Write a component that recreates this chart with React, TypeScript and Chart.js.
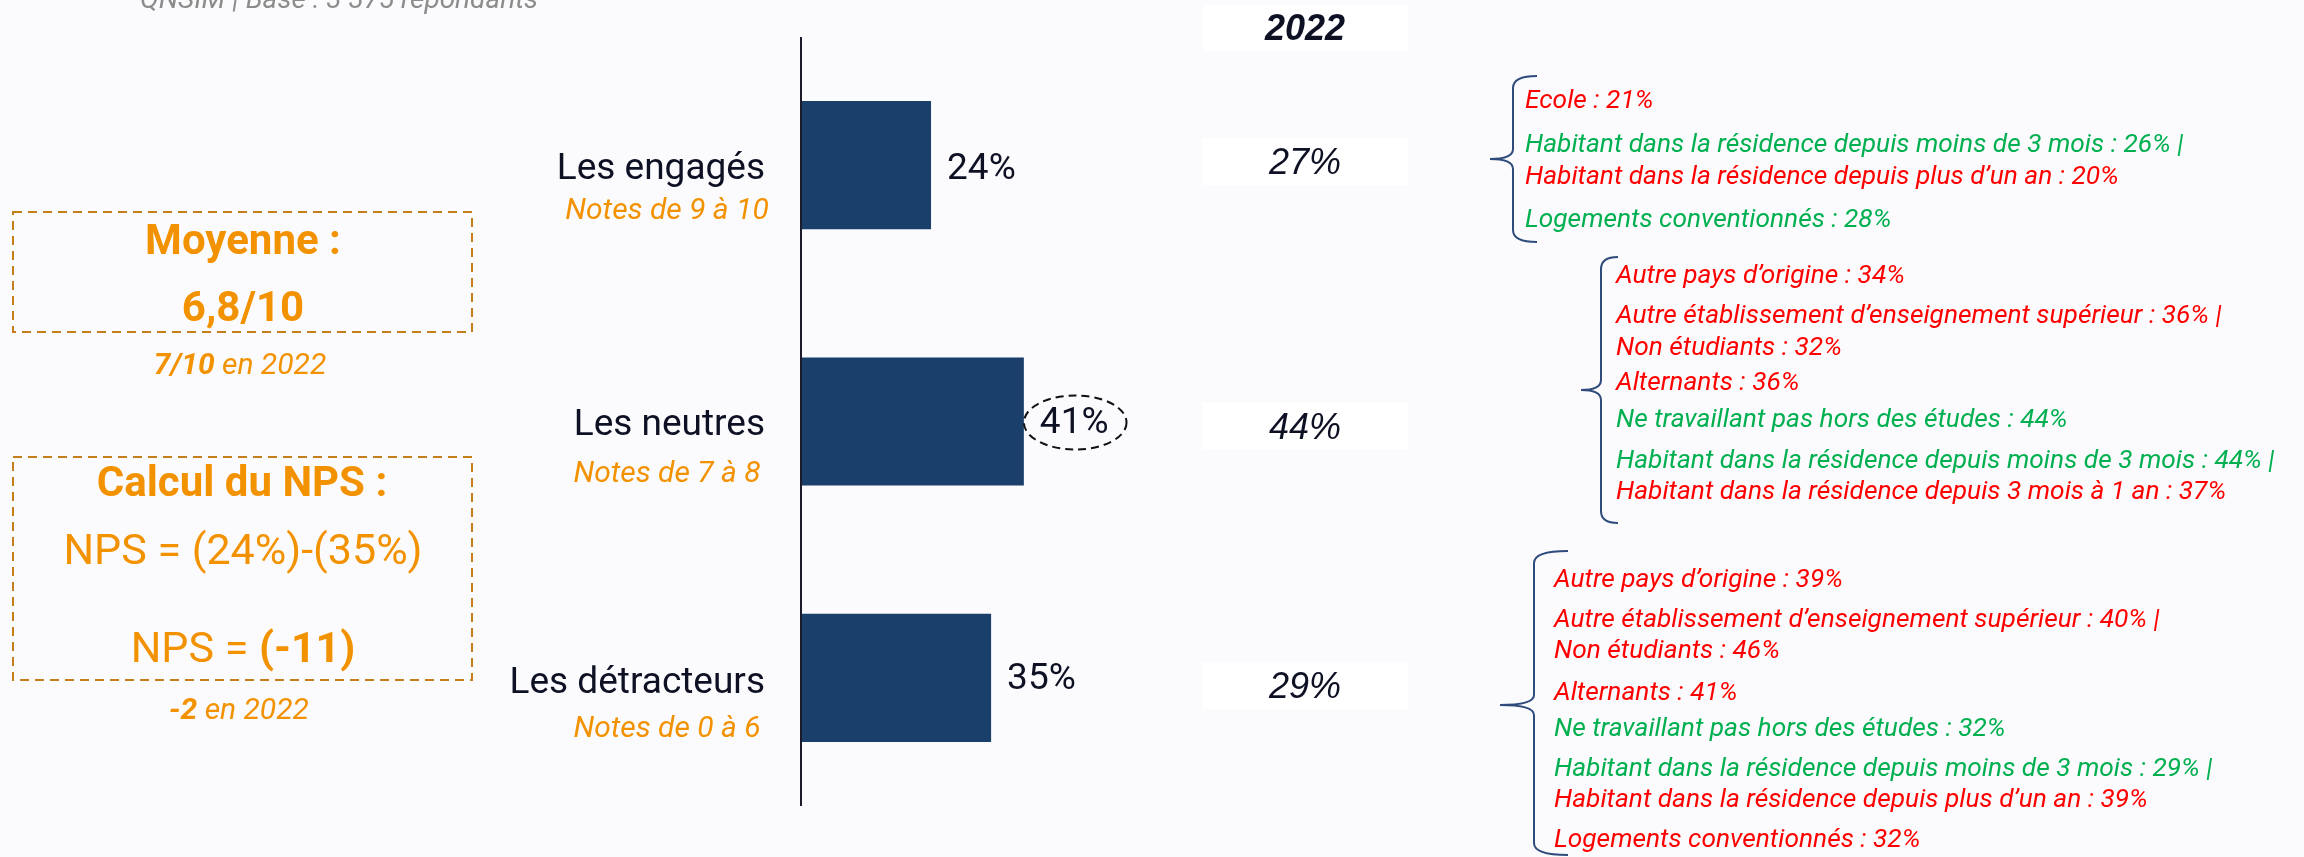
import React, { useEffect, useRef } from "react";
import { Chart, registerables } from "chart.js";

Chart.register(...registerables);

// ---------- DATA ----------
const categories = ["Les engagés", "Les neutres", "Les détracteurs"];
const scoreRanges = ["Notes de 9 à 10", "Notes de 7 à 8", "Notes de 0 à 6"];
const values2023 = [24, 41, 35];
const values2022 = [27, 44, 29];
const previousYear = "2022";
const highlightIndex = 1;

const meanTitle = "Moyenne :";
const meanScore = "6,8/10";
const meanPrevious = "7/10";
const npsTitle = "Calcul du NPS :";
const npsPromoters = 24;
const npsDetractors = 35;
const npsValue = -11;
const npsPrevious = -2;
const sourceNote = "QNSIM | Base : 3 375 répondants";

// [text, direction] : "up" = significantly higher, "down" = significantly lower
const engagesNotes: [string, string][] = [
  ["Ecole : 21%", "down"],
  ["Habitant dans la résidence depuis moins de 3 mois : 26% |", "up"],
  ["Habitant dans la résidence depuis plus d’un an : 20%", "down"],
  ["Logements conventionnés : 28%", "up"],
];
const neutresNotes: [string, string][] = [
  ["Autre pays d’origine : 34%", "down"],
  ["Autre établissement d’enseignement supérieur : 36% |", "down"],
  ["Non étudiants : 32%", "down"],
  ["Alternants : 36%", "down"],
  ["Ne travaillant pas hors des études : 44%", "up"],
  ["Habitant dans la résidence depuis moins de 3 mois : 44% |", "up"],
  ["Habitant dans la résidence depuis 3 mois à 1 an : 37%", "down"],
];
const detracteursNotes: [string, string][] = [
  ["Autre pays d’origine : 39%", "down"],
  ["Autre établissement d’enseignement supérieur : 40% |", "down"],
  ["Non étudiants : 46%", "down"],
  ["Alternants : 41%", "down"],
  ["Ne travaillant pas hors des études : 32%", "up"],
  ["Habitant dans la résidence depuis moins de 3 mois : 29% |", "up"],
  ["Habitant dans la résidence depuis plus d’un an : 39%", "down"],
  ["Logements conventionnés : 32%", "down"],
];

// ---------- LAYOUT / STYLE ----------
const W = 2304;
const H = 857;
const BG = "#FBFBFD";
const NAVY = "#1A3F6B";
const INK = "#0E1024";
const ORANGE = "#F39200";
const DASH_ORANGE = "#C47E1A";
const RED = "#FF0000";
const GREEN = "#00B050";
const BRACE = "#2F4B7C";

const labelOffsets = [5, 4, 6];
const subLabelOffsets = [46, 53, 52];
const valueOffsets = [5, 2, 2];
const prevBoxOffsets = [-4, 4, 7];

const noteGroups = [
  { notes: engagesNotes, x: 1525, baselines: [108, 152, 184, 227], brace: { x: 1513, top: 76, bottom: 242, mid: 159, tip: 1490, end: 1537 } },
  { notes: neutresNotes, x: 1616, baselines: [283, 323, 355, 390, 427, 468, 499], brace: { x: 1601, top: 257, bottom: 523, mid: 390, tip: 1581, end: 1618 } },
  { notes: detracteursNotes, x: 1554, baselines: [587, 627, 658, 700, 736, 776, 807, 847], brace: { x: 1534, top: 551, bottom: 855, mid: 705, tip: 1500, end: 1568 } },
];

type Run = { text: string; font: string };

function drawRuns(ctx: CanvasRenderingContext2D, runs: Run[], cx: number, y: number, color: string) {
  let total = 0;
  const widths = runs.map((r) => {
    ctx.font = r.font;
    const w = ctx.measureText(r.text).width;
    total += w;
    return w;
  });
  let x = cx - total / 2;
  ctx.fillStyle = color;
  ctx.textAlign = "left";
  ctx.textBaseline = "middle";
  runs.forEach((r, i) => {
    ctx.font = r.font;
    ctx.fillText(r.text, x, y);
    x += widths[i];
  });
}

function drawBrace(ctx: CanvasRenderingContext2D, b: { x: number; top: number; bottom: number; mid: number; tip: number; end: number }) {
  const r = 12;
  const r2 = 10;
  ctx.save();
  ctx.strokeStyle = BRACE;
  ctx.lineWidth = 2;
  ctx.beginPath();
  ctx.moveTo(b.end, b.top);
  ctx.quadraticCurveTo(b.x, b.top, b.x, b.top + r);
  ctx.lineTo(b.x, b.mid - r2);
  ctx.quadraticCurveTo(b.x, b.mid, b.tip, b.mid);
  ctx.quadraticCurveTo(b.x, b.mid, b.x, b.mid + r2);
  ctx.lineTo(b.x, b.bottom - r);
  ctx.quadraticCurveTo(b.x, b.bottom, b.end, b.bottom);
  ctx.stroke();
  ctx.restore();
}

const decorPlugin = {
  id: "decor",
  beforeDraw(chart: any) {
    const ctx = chart.ctx as CanvasRenderingContext2D;
    ctx.save();
    ctx.fillStyle = BG;
    ctx.fillRect(0, 0, W, H);
    ctx.restore();
  },
  afterDraw(chart: any) {
    const ctx = chart.ctx as CanvasRenderingContext2D;
    const area = chart.chartArea;
    const meta = chart.getDatasetMeta(0);
    const yScale = chart.scales.y;
    ctx.save();

    // source note (cut at top)
    ctx.font = "italic 28px Roboto";
    ctx.fillStyle = "#8C8C8C";
    ctx.textAlign = "left";
    ctx.textBaseline = "alphabetic";
    ctx.fillText(sourceNote, 140, 8);

    // axis line
    ctx.strokeStyle = "#1B1B2B";
    ctx.lineWidth = 2;
    ctx.beginPath();
    ctx.moveTo(area.left + 1, area.top);
    ctx.lineTo(area.left + 1, area.bottom);
    ctx.stroke();

    // category labels
    categories.forEach((c, i) => {
      const y = yScale.getPixelForValue(i);
      ctx.font = "37px Roboto";
      ctx.fillStyle = INK;
      ctx.textAlign = "right";
      ctx.textBaseline = "middle";
      ctx.fillText(c, 765, y + labelOffsets[i]);
      ctx.font = "italic 30px Roboto";
      ctx.fillStyle = ORANGE;
      ctx.textAlign = "center";
      ctx.fillText(scoreRanges[i], 667, y + subLabelOffsets[i]);
    });

    // value labels
    meta.data.forEach((bar: any, i: number) => {
      const txt = values2023[i] + "%";
      ctx.font = "37px Roboto";
      ctx.fillStyle = INK;
      ctx.textAlign = "left";
      ctx.textBaseline = "middle";
      const tx = bar.x + 16;
      ctx.fillText(txt, tx, bar.y + valueOffsets[i]);
      if (i === highlightIndex) {
        const w = ctx.measureText(txt).width;
        ctx.save();
        ctx.setLineDash([8, 5]);
        ctx.lineWidth = 2;
        ctx.strokeStyle = "#111";
        ctx.beginPath();
        ctx.ellipse(tx + w / 2 + 1, bar.y + 1, w / 2 + 17, 27, 0, 0, Math.PI * 2);
        ctx.stroke();
        ctx.restore();
      }
    });

    // previous year column
    const colL = 1202;
    const colR = 1408;
    const colC = 1305;
    ctx.fillStyle = "#FFFFFF";
    ctx.fillRect(colL, 5, colR - colL, 46);
    ctx.font = "bold italic 36px 'Liberation Sans'";
    ctx.fillStyle = INK;
    ctx.textAlign = "center";
    ctx.textBaseline = "middle";
    ctx.fillText(previousYear, colC, 30);
    values2022.forEach((v, i) => {
      const yc = yScale.getPixelForValue(i) + prevBoxOffsets[i];
      ctx.fillStyle = "#FFFFFF";
      ctx.fillRect(colL, yc - 23, colR - colL, 47);
      ctx.font = "italic 36px 'Liberation Sans'";
      ctx.fillStyle = INK;
      ctx.textAlign = "center";
      ctx.textBaseline = "middle";
      ctx.fillText(v + "%", colC, yc + 3);
    });

    // left boxes
    ctx.save();
    ctx.setLineDash([9, 6]);
    ctx.lineWidth = 2;
    ctx.strokeStyle = DASH_ORANGE;
    ctx.strokeRect(13, 212, 459, 120);
    ctx.strokeRect(13, 457, 459, 223);
    ctx.restore();

    drawRuns(ctx, [{ text: meanTitle, font: "bold 42px Roboto" }], 243, 243, ORANGE);
    drawRuns(ctx, [{ text: meanScore, font: "bold 42px Roboto" }], 243, 310, ORANGE);
    drawRuns(ctx, [
      { text: meanPrevious, font: "bold italic 30px Roboto" },
      { text: " en " + previousYear, font: "italic 30px Roboto" },
    ], 240, 366, ORANGE);

    drawRuns(ctx, [{ text: npsTitle, font: "bold 42px Roboto" }], 242, 485, ORANGE);
    drawRuns(ctx, [{ text: `NPS = (${npsPromoters}%)-(${npsDetractors}%)`, font: "43px Roboto" }], 243, 553, ORANGE);
    drawRuns(ctx, [
      { text: "NPS = ", font: "43px Roboto" },
      { text: `(${npsValue})`, font: "bold 43px Roboto" },
    ], 243, 651, ORANGE);
    drawRuns(ctx, [
      { text: String(npsPrevious), font: "bold italic 30px Roboto" },
      { text: " en " + previousYear, font: "italic 30px Roboto" },
    ], 239, 711, ORANGE);

    // notes with braces
    noteGroups.forEach((g) => {
      drawBrace(ctx, g.brace);
      ctx.font = "italic 26.3px Roboto";
      ctx.textAlign = "left";
      ctx.textBaseline = "alphabetic";
      g.notes.forEach(([t, dir], i) => {
        ctx.fillStyle = dir === "up" ? GREEN : RED;
        ctx.fillText(t, g.x, g.baselines[i]);
      });
    });

    ctx.restore();
  },
};

export default function App() {
  const ref = useRef<HTMLCanvasElement | null>(null);
  useEffect(() => {
    document.body.style.margin = "0";
    if (!ref.current) return;
    const chart = new Chart(ref.current, {
      type: "bar",
      data: {
        labels: categories,
        datasets: [
          {
            data: values2023,
            backgroundColor: NAVY,
            borderWidth: 0,
            barPercentage: 0.5,
            categoryPercentage: 1,
          },
        ],
      },
      options: {
        indexAxis: "y",
        animation: false,
        responsive: false,
        maintainAspectRatio: false,
        devicePixelRatio: 1,
        layout: { padding: { left: 800, right: 958, top: 37, bottom: 51 } },
        scales: {
          x: { display: false, min: 0, max: 100 },
          y: { display: false },
        },
        plugins: { legend: { display: false }, tooltip: { enabled: false } },
      },
      plugins: [decorPlugin],
    } as any);
    const fonts = (document as any).fonts;
    if (fonts && fonts.load) {
      Promise.all([
        fonts.load("37px Roboto"),
        fonts.load("italic 30px Roboto"),
        fonts.load("bold 42px Roboto"),
        fonts.load("bold italic 30px Roboto"),
        fonts.load("italic 36px 'Liberation Sans'"),
        fonts.load("bold italic 36px 'Liberation Sans'"),
      ]).then(() => chart.update()).catch(() => {});
    }
    return () => chart.destroy();
  }, []);
  return (
    <div style={{ position: "absolute", left: 0, top: 0, width: W, height: H, background: BG }}>
      <canvas ref={ref} width={W} height={H} style={{ display: "block" }} />
    </div>
  );
}
